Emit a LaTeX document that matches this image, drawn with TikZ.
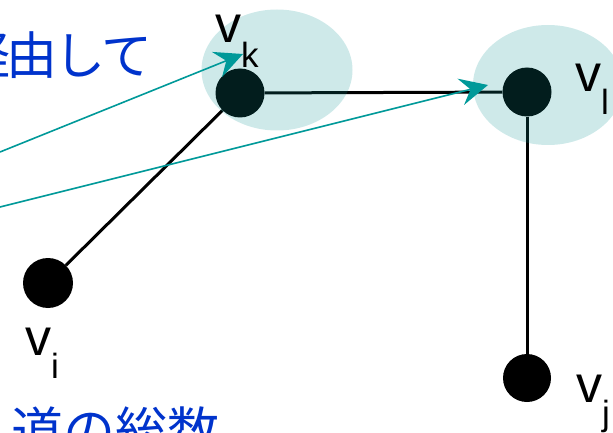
\documentclass[tikz,border=0pt]{standalone}
\usepackage{fontspec}
\newfontfamily\jp{Noto Sans CJK JP}
\newfontfamily\lab{Liberation Sans}
\usetikzlibrary{arrows.meta}
\definecolor{jblue}{RGB}{0,51,204}
\definecolor{arrteal}{RGB}{0,153,153}
\definecolor{elteal}{RGB}{10,147,147}
\tikzset{
  vert/.style={circle,fill=black,inner sep=0pt,minimum size=#1},
  edge/.style={line width=3pt,black},
  halo/.style={fill=elteal,fill opacity=0.2,draw=none},
  tealarrow/.style={line width=1.6pt,arrteal,-{Stealth[length=28pt,width=27pt,inset=10pt]}},
  vlabel/.style={anchor=base west,inner sep=0pt,font=\lab\fontsize{52}{52}\selectfont},
  jtext/.style={inner sep=0pt,text=jblue,font=\jp\fontsize{#1}{#1}\selectfont}
}
\newcommand{\subx}[2]{\raisebox{-#1pt}{\fontsize{35}{35}\selectfont #2}}
\begin{document}
\begin{tikzpicture}[x=1pt,y=-1pt]
\useasboundingbox (0,0) rectangle (613,433);
% vertices
\node[vert=49pt] (vk) at (240,93) {};
\node[vert=49pt] (vl) at (527,92) {};
\node[vert=50pt] (vi) at (48,283) {};
\node[vert=48pt] (vj) at (527,378) {};
% edges
\draw[edge] (vi) -- (vk);
\draw[edge] (vk) -- (vl);
\draw[edge] (vl) -- (vj);
% halos
\path[halo] (277,70) ellipse [x radius=75.5, y radius=60.5];
\path[halo] (548,85) ellipse [x radius=75, y radius=60];
% labels
\node[vlabel] (lk) at (215,43) {v\subx{25}{k}};
\node[vlabel] (ll) at (575,92) {v\subx{23}{l}};
\node[vlabel] (li) at (25,355) {v\subx{23}{i}};
\node[vlabel] (lj) at (576,402) {v\subx{23}{j}};
% texts
\node[jtext=51,anchor=base east] (t1) at (153,75) {経\kern-3.5pt 由\kern-3.5pt し\kern-3.5pt て};
\node[jtext=52,anchor=base east] (t2) at (220,450) {る\kern6pt 道の総数};
% arrows
\coordinate (s1) at (0,152);
\coordinate (s2) at (0,207);
\coordinate (e1) at (243,54);
\coordinate (e2) at (488,85);
\draw[tealarrow] (s1) -- (e1);
\draw[tealarrow] (s2) -- (e2);
\end{tikzpicture}
\end{document}
